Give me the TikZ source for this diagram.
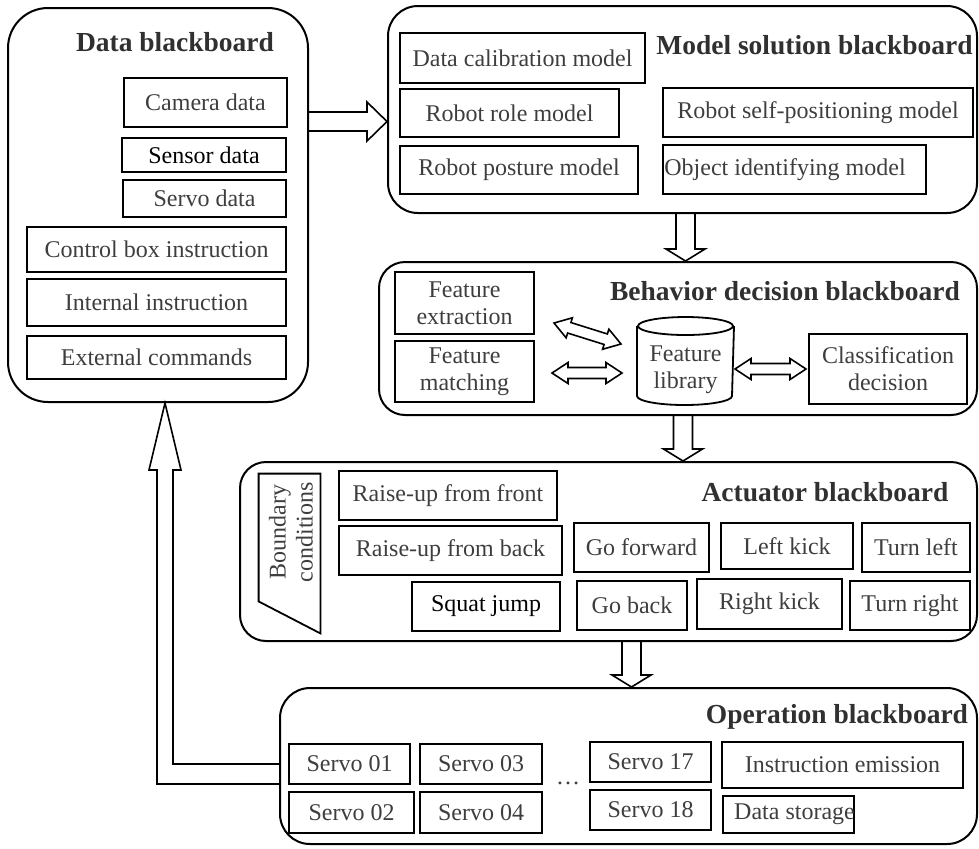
\documentclass[tikz,border=0pt]{standalone}
\usepackage{fontspec}
\setmainfont{Liberation Serif}
\usetikzlibrary{calc,fit}
\definecolor{txt}{RGB}{62,62,62}
\definecolor{ttl}{RGB}{48,48,48}
\tikzset{
 board/.style={draw, line width=1pt, rounded corners=15pt, inner sep=0pt},
 box/.style={draw, line width=1pt, inner sep=0pt, text=txt, font=\fontsize{12}{13.5}\selectfont, align=center},
 lbl/.style={text=txt, font=\fontsize{12}{13.5}\selectfont, inner sep=0pt, align=center},
 ttlstyle/.style={text=ttl, font=\fontsize{13.75}{15}\selectfont\bfseries, inner sep=0pt},
 blk/.style={draw, line width=0.8pt, line join=miter},
}
\newcommand\bx[6]{\node[box, minimum width={(#4-#2)*0.5pt}, minimum height={(#5-#3)*0.5pt}] (#1) at ({(#2+#4)/2},{(#3+#5)/2}) {#6};}
\newcommand\varrow[2]{\draw[blk] ($(#1)+(-9.5,0)$) -- ($(#2)+(-9.5,-12)$) -- ($(#2)+(-19.5,-12)$) -- (#2) -- ($(#2)+(19.5,-12)$) -- ($(#2)+(9.5,-12)$) -- ($(#1)+(9.5,0)$);}
\newcommand\harrow[2]{\draw[blk] ($(#1)+(0,-9.5)$) -- ($(#2)+(-20,-9.5)$) -- ($(#2)+(-20,-19.5)$) -- (#2) -- ($(#2)+(-20,19.5)$) -- ($(#2)+(-20,9.5)$) -- ($(#1)+(0,9.5)$);}
\newcommand\dbl[2]{\draw[blk] (#1) -- ($(#1)!8pt!(#2)!5.25pt!90:(#2)$) -- ($(#1)!8pt!(#2)!2.75pt!90:(#2)$) -- ($(#2)!8pt!(#1)!2.75pt!-90:(#1)$) -- ($(#2)!8pt!(#1)!5.25pt!-90:(#1)$) -- (#2) -- ($(#2)!8pt!(#1)!5.25pt!90:(#1)$) -- ($(#2)!8pt!(#1)!2.75pt!90:(#1)$) -- ($(#1)!8pt!(#2)!2.75pt!-90:(#2)$) -- ($(#1)!8pt!(#2)!5.25pt!-90:(#2)$) -- cycle;}
\begin{document}
\begin{tikzpicture}[x=0.5pt,y=-0.5pt]
\useasboundingbox (0,0) rectangle (979,848);
% boards
\node[board, rounded corners=20pt, fit={(8,8)(308,402)}] (data) {};
\node[board, fit={(388,6)(977,213)}] (model) {};
\node[board, rounded corners=13pt, fit={(379,262)(977,415)}] (behav) {};
\node[board, rounded corners=13pt, fit={(240,462)(977,641)}] (act) {};
\node[board, fit={(280,688)(977,844)}] (oper) {};
% titles
\node[ttlstyle] (tdata) at (175,42) {Data blackboard};
\node[ttlstyle, anchor=east] (tmodel) at (973,45) {Model solution blackboard};
\node[ttlstyle] (tbeh) at (785,291) {Behavior decision blackboard};
\node[ttlstyle] (tact) at (825,492) {Actuator blackboard};
\node[ttlstyle] (toper) at (837,717) {Operation blackboard};
% data boxes
\bx{cam}{124}{78}{287}{127}{Camera data}
\bx{sen}{122}{138}{286}{172}{\textcolor{black}{Sensor data}}
\bx{srv}{123}{180}{286}{217}{Servo data}
\bx{ctl}{27}{227}{286}{272}{Control box instruction}
\bx{int}{27}{279}{286}{326}{Internal instruction}
\bx{ext}{27}{336}{286}{379}{External commands}
% model boxes
\bx{cal}{400}{33}{645}{83}{Data calibration model}
\bx{role}{400}{89}{619}{137}{Robot role model}
\bx{post}{400}{146}{638}{194}{Robot posture model}
\bx{self}{663}{88}{973}{137}{Robot self-positioning model}
\bx{obj}{663}{145}{926}{194}{}
\node[lbl, anchor=west] (objt) at ($(obj.west)+(2,0)$) {Object identifying model};
% behavior
\bx{fext}{395}{272}{534}{334}{Feature\\extraction}
\bx{fmat}{395}{341}{534}{402}{Feature\\matching}
\bx{cls}{809}{334}{967}{404}{Classification\\decision}
\node[box, draw=none, minimum width=47.5pt, minimum height=38.5pt] (lib) at (685.5,365.5) {};
\node[lbl] (libt) at ($(lib.center)+(0,4)$) {Feature\\library};
\draw[line width=0.9pt] (lib.north) ellipse [x radius=23.75pt, y radius=4.5pt];
\draw[line width=0.9pt] (lib.north west) -- ($(lib.south west)+(0,-9)$) arc[start angle=180,end angle=360,x radius=23.75pt,y radius=4.5pt] -- (lib.north east);
\coordinate (d1a) at (554,323); \coordinate (d1b) at (621,344);
\coordinate (d2a) at (552,373); \coordinate (d2b) at (622,373);
\coordinate (d3a) at (735,369); \coordinate (d3b) at (806,369);
\dbl{d1a}{d1b}
\dbl{d2a}{d2b}
\dbl{d3a}{d3b}
% actuator
\node[inner sep=0pt, fit={(259,474)(320,633)}] (bnd) {};
\draw[line width=0.9pt] (bnd.north west) -- (bnd.north east) -- (bnd.south east) -- ($(bnd.south west)+(0,-32)$) -- cycle;
\node[lbl, rotate=90] (bndt) at (291,532) {Boundary\\conditions};
\bx{rf}{339}{471}{557}{520}{Raise-up from front}
\bx{rb}{339}{526}{562}{575}{Raise-up from back}
\bx{sq}{412}{582}{560}{631}{\textcolor{black}{Squat jump}}
\bx{gf}{574}{523}{709}{572}{Go forward}
\bx{lk}{721}{523}{853}{569}{Left kick}
\bx{tl}{862}{523}{970}{572}{Turn left}
\bx{gb}{577}{581}{687}{630}{Go back}
\bx{rk}{697}{579}{842}{629}{Right kick}
\bx{tr}{850}{581}{970}{630}{Turn right}
% operation
\bx{s01}{289}{744}{410}{784}{Servo 01}
\bx{s03}{420}{744}{542}{784}{Servo 03}
\bx{s02}{289}{792}{414}{833}{Servo 02}
\bx{s04}{420}{792}{542}{833}{Servo 04}
\node[lbl] (dots) at (568,783) {…};
\bx{s17}{590}{742}{711}{782}{Servo 17}
\bx{s18}{590}{790}{711}{830}{Servo 18}
\bx{ie}{722}{742}{963}{788}{Instruction emission}
\bx{ds}{723}{796}{854}{833}{}
\node[lbl] (dst) at ($(ds.center)+(6,0)$) {Data storage};
% block arrows
\coordinate (a1s) at (data.east |- 0,121.5);
\coordinate (a1e) at (model.west |- 0,121.5);
\harrow{a1s}{a1e}
\coordinate (a2s) at (model.south -| 685.5,0);
\coordinate (a2e) at (behav.north -| 685.5,0);
\varrow{a2s}{a2e}
\coordinate (a3s) at (behav.south -| 683,0);
\coordinate (a3e) at (act.north -| 683,0);
\varrow{a3s}{a3e}
\coordinate (a4s) at (act.south -| 631.5,0);
\coordinate (a4e) at (oper.north -| 631.5,0);
\varrow{a4s}{a4e}
% feedback arrow
\coordinate (f1) at (oper.west |- 0,764);
\coordinate (f2) at (oper.west |- 0,784);
\coordinate (ftip) at (data.south -| 165,0);
\draw[blk] (f1) -| ($(ftip)+(8,67)$) -- ($(ftip)+(16,67)$) -- (ftip) -- ($(ftip)+(-16,67)$) -- ($(ftip)+(-8,67)$) |- (f2);
\end{tikzpicture}
\end{document}
